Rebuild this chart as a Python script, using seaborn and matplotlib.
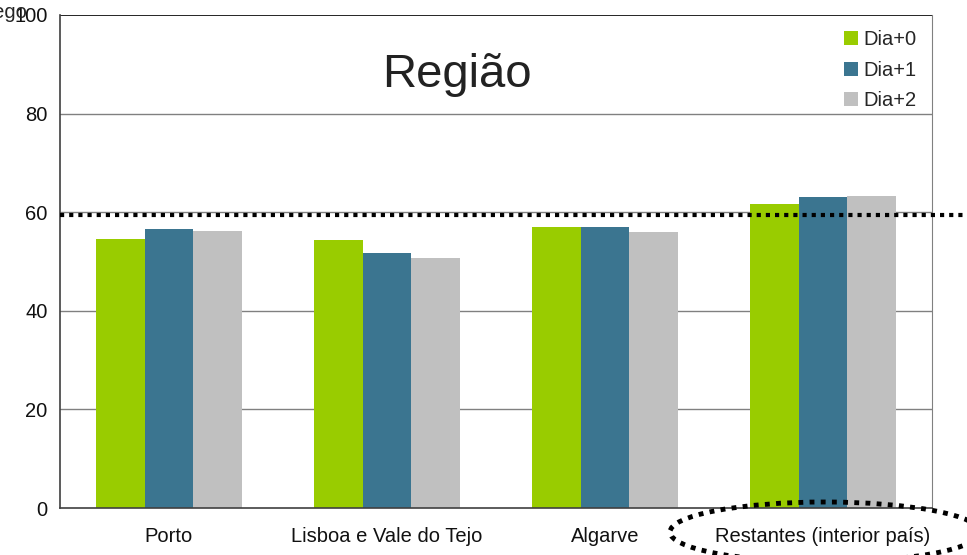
import matplotlib
matplotlib.use("Agg")
import matplotlib.pyplot as plt
from matplotlib.patches import Ellipse
import seaborn as sns
import pandas as pd

categories = ["Porto", "Lisboa e Vale do Tejo", "Algarve", "Restantes (interior país)"]
series = ["Dia+0", "Dia+1", "Dia+2"]
dia0 = [54.6, 54.4, 57.0, 61.7]
dia1 = [56.6, 51.7, 57.0, 63.1]
dia2 = [56.2, 50.7, 56.0, 63.3]
reference_level = 59.4
yticks = [0, 20, 40, 60, 80, 100]
colors = ["#99CC00", "#3B7590", "#C0C0C0"]

rows = []
for s, vals in zip(series, [dia0, dia1, dia2]):
    for c, v in zip(categories, vals):
        rows.append({"cat": c, "serie": s, "val": v})
df = pd.DataFrame(rows)

sns.set_style("white")
plt.rcParams['font.family'] = ['Liberation Sans', 'DejaVu Sans']

fig = plt.figure(figsize=(9.67, 5.55), dpi=100)
ax = fig.add_axes([60/967, 47/555, (932-60)/967, (508-15)/555])

sns.barplot(data=df, x="cat", y="val", hue="serie", order=categories,
            hue_order=series, palette=colors, width=0.67, saturation=1,
            linewidth=0, ax=ax, legend=True)

ax.set_xlim(-0.5, 3.5)
ax.set_ylim(0, 100)
ax.set_yticks(yticks)
ax.set_yticklabels([str(t) for t in yticks], fontsize=14.5, color='#111111')
ax.set_xlabel("")
ax.set_ylabel("")
ax.tick_params(axis='x', which='major', length=0, labelsize=14.5, pad=14,
               labelcolor='#111111')
ax.set_xticks([-0.5, 0.5, 1.5, 2.5, 3.5], minor=True)
ax.tick_params(axis='x', which='minor', length=5, color='#404040', direction='out')
ax.tick_params(axis='y', length=5, color='#404040', direction='out', pad=4)

for t in [20, 40, 60, 80]:
    ax.axhline(t, color='#808080', lw=1, zorder=0)
ax.axhline(100, color='black', lw=1.2, zorder=0)

for side in ['left', 'bottom']:
    ax.spines[side].set_color('#404040')
    ax.spines[side].set_linewidth(1.2)
ax.spines['right'].set_color('#808080')
ax.spines['top'].set_visible(False)

# dotted reference line extending to figure edge
ax.plot([-0.5, 3.5 + (967-932)/218.0], [reference_level, reference_level],
        color='black', lw=3, linestyle=(0, (1, 1.2)), clip_on=False, zorder=5)

ax.text(0.455, 0.878, "Região", transform=ax.transAxes, fontsize=34,
        ha='center', va='center', color='#222222')

leg = ax.legend(loc='upper right', bbox_to_anchor=(1.0, 1.0), frameon=False,
                fontsize=14.5, handlelength=0.7, handleheight=0.7,
                handletextpad=0.3, labelspacing=0.58, borderpad=0.75,
                borderaxespad=0.0, title=None)

fig.text(27/967, 1 - 13/555, "Emprego", ha='right', va='center', fontsize=14.5)

ell = Ellipse((825/967, 1 - 532/555), 310/967, 60/555, transform=fig.transFigure,
              fill=False, edgecolor='black', lw=3.5, linestyle=(0, (1, 1.3)),
              clip_on=False)
fig.add_artist(ell)

fig.savefig("out.png", dpi=100)
